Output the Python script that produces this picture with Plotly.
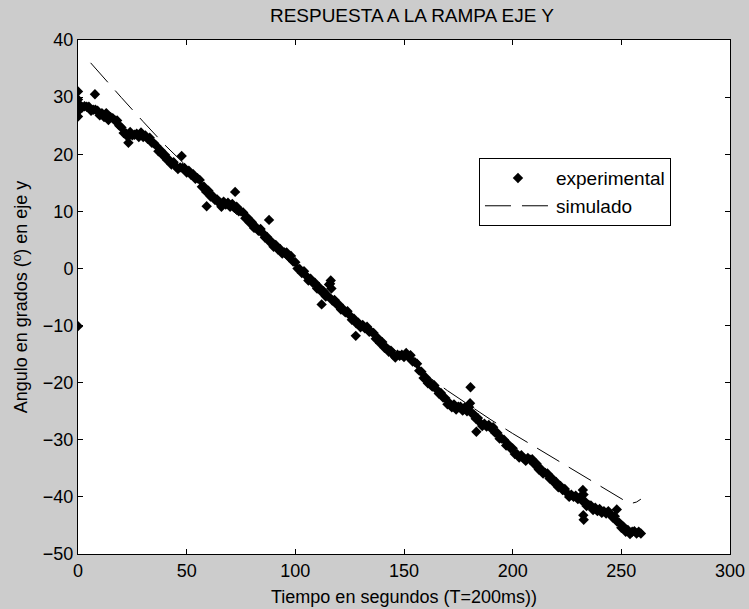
import plotly.graph_objects as go

# Experimental samples (one per second), angle in degrees
exp_t = list(range(0, 260))
exp_v = [
    27.5, 28.6, 28.2, 28.4, 28.3, 28.3, 27.6, 27.8, 27.8, 27.6,
    26.8, 27.2, 26.5, 27.2, 26.0, 26.5, 26.3, 25.9, 25.9, 25.0,
    24.7, 23.7, 23.7, 23.0, 23.9, 23.3, 23.4, 23.6, 23.0, 23.8,
    23.0, 23.3, 22.7, 22.9, 22.0, 21.9, 21.5, 20.5, 20.7, 19.8,
    19.9, 19.0, 19.0, 18.2, 18.6, 17.9, 17.4, 17.7, 17.6, 17.6,
    16.8, 17.1, 16.4, 16.5, 15.7, 15.8, 15.5, 14.3, 14.3, 13.4,
    13.6, 12.6, 12.7, 12.0, 12.1, 11.4, 10.8, 11.7, 11.2, 11.5,
    10.8, 11.3, 10.6, 10.8, 10.0, 10.0, 9.8, 8.8, 8.9, 8.0,
    8.1, 7.1, 7.2, 6.6, 6.9, 6.2, 5.4, 5.5, 4.7, 4.7,
    3.8, 4.1, 3.3, 3.4, 2.6, 2.8, 2.8, 2.0, 2.2, 1.2,
    1.1, 0.0, -0.1, -0.8, -0.5, -1.3, -2.1, -1.8, -2.5, -2.5,
    -3.5, -3.3, -4.1, -4.0, -4.9, -4.8, -2.7, -5.6, -5.5, -6.3,
    -6.3, -7.2, -7.1, -7.7, -7.5, -8.2, -9.0, -8.8, -9.6, -9.5,
    -10.3, -9.9, -10.5, -10.2, -11.1, -11.1, -11.3, -12.3, -12.2, -13.1,
    -12.9, -13.9, -13.9, -14.6, -14.4, -15.1, -15.6, -15.1, -15.3, -15.1,
    -15.5, -14.8, -15.5, -15.2, -16.3, -16.4, -16.7, -17.9, -18.1, -19.2,
    -19.1, -20.1, -20.0, -20.7, -20.5, -21.2, -21.9, -21.8, -22.6, -22.7,
    -23.8, -23.6, -24.3, -23.8, -24.7, -24.2, -24.2, -24.9, -24.3, -25.0,
    -24.3, -25.3, -25.5, -26.3, -26.2, -27.0, -27.6, -27.2, -27.7, -27.4,
    -28.0, -27.8, -28.8, -28.8, -29.8, -29.8, -30.0, -31.0, -30.8, -31.5,
    -31.5, -32.5, -32.5, -33.1, -32.7, -33.2, -33.7, -33.2, -33.5, -33.4,
    -34.3, -34.2, -35.2, -35.1, -35.9, -35.8, -35.9, -36.8, -36.7, -37.5,
    -37.4, -38.3, -38.1, -38.8, -38.6, -39.3, -40.0, -39.6, -40.0, -39.8,
    -40.4, -40.0, -40.7, -40.7, -41.6, -41.4, -41.5, -42.3, -41.9, -42.5,
    -42.1, -42.8, -42.5, -42.9, -42.5, -43.0, -43.6, -43.4, -44.3, -44.5,
    -45.4, -45.2, -46.1, -45.8, -46.5, -46.1, -46.0, -46.4, -46.1, -46.4,
]

# Isolated readings (glitches and spikes away from the main trace)
spike_t = [0, 0, 0, 0, 7.8, 23.2, 47.7, 59.2, 72.3, 87.9, 112.1, 115.5,
           116.3, 116.6, 127.8, 180.6, 180.4, 183.3, 232.3, 232.6, 232.5,
           232.7, 247.9]
spike_v = [31.0, -10.1, 29.6, 26.6, 30.5, 22.0, 19.7, 10.9, 13.4, 8.5, -6.3,
           -2.8, -2.1, -3.5, -11.8, -20.8, -23.6, -28.6, -38.8, -39.6, -43.2,
           -44.0, -42.2]

# Simulated model response
sim_t = [5.8, 12, 20, 30, 40, 50, 60, 70, 80, 90, 100, 110, 120, 130, 140,
         150, 160, 170, 180, 190, 200, 210, 220, 230, 240, 246, 250, 253,
         255, 257, 259]
sim_v = [36.0, 33.3, 29.9, 25.7, 21.6, 17.9, 14.2, 10.5, 7.0, 3.6, 0.2, -3.1,
         -6.3, -9.5, -12.6, -15.6, -18.6, -21.4, -24.0, -26.5, -28.9, -31.2,
         -33.5, -35.8, -38.0, -39.5, -40.4, -41.0, -41.1, -40.9, -40.4]

x_ticks = [0, 50, 100, 150, 200, 250, 300]
y_ticks = [-50, -40, -30, -20, -10, 0, 10, 20, 30, 40]

font = "Liberation Sans, Arial, sans-serif"

fig = go.Figure()
fig.add_trace(go.Scatter(
    x=exp_t + spike_t, y=exp_v + spike_v, mode="markers", name="experimental",
    marker=dict(symbol="diamond", size=8, color="black", line=dict(width=0)),
))
fig.add_trace(go.Scatter(
    x=sim_t, y=sim_v, mode="lines", name="simulado",
    line=dict(color="black", width=1, dash="26px,11px"),
))

axis_common = dict(
    showgrid=False, zeroline=False, showline=True, linecolor="black",
    linewidth=1, mirror="ticks", ticks="inside", ticklen=5,
    tickcolor="black", automargin=False,
    tickfont=dict(family=font, size=18, color="black"),
)
fig.update_xaxes(range=[0, 300], tickvals=x_ticks,
                 title=dict(text="Tiempo en segundos (T=200ms))",
                            font=dict(family=font, size=18, color="black"),
                            standoff=10),
                 **axis_common)
fig.update_yaxes(range=[-50, 40], tickvals=y_ticks,
                 title=dict(text="Angulo en grados (º) en eje y",
                            font=dict(family=font, size=18, color="black"),
                            standoff=10),
                 **axis_common)

fig.update_layout(
    width=749, height=609,
    margin=dict(l=78, r=19, t=40, b=55, autoexpand=False),
    paper_bgcolor="#cccccc", plot_bgcolor="white",
    title=dict(text="RESPUESTA A LA RAMPA EJE Y", x=0.55, xanchor="center",
               y=1 - 15 / 609, yanchor="middle",
               xref="container",
               font=dict(family=font, size=19, color="black")),
    showlegend=True,
    legend=dict(x=0.615, y=0.77, xanchor="left", yanchor="top",
                bgcolor="white", bordercolor="black", borderwidth=1,
                font=dict(family=font, size=19, color="black"),
                itemwidth=66, tracegroupgap=2),
)

fig.write_html("out.html")
